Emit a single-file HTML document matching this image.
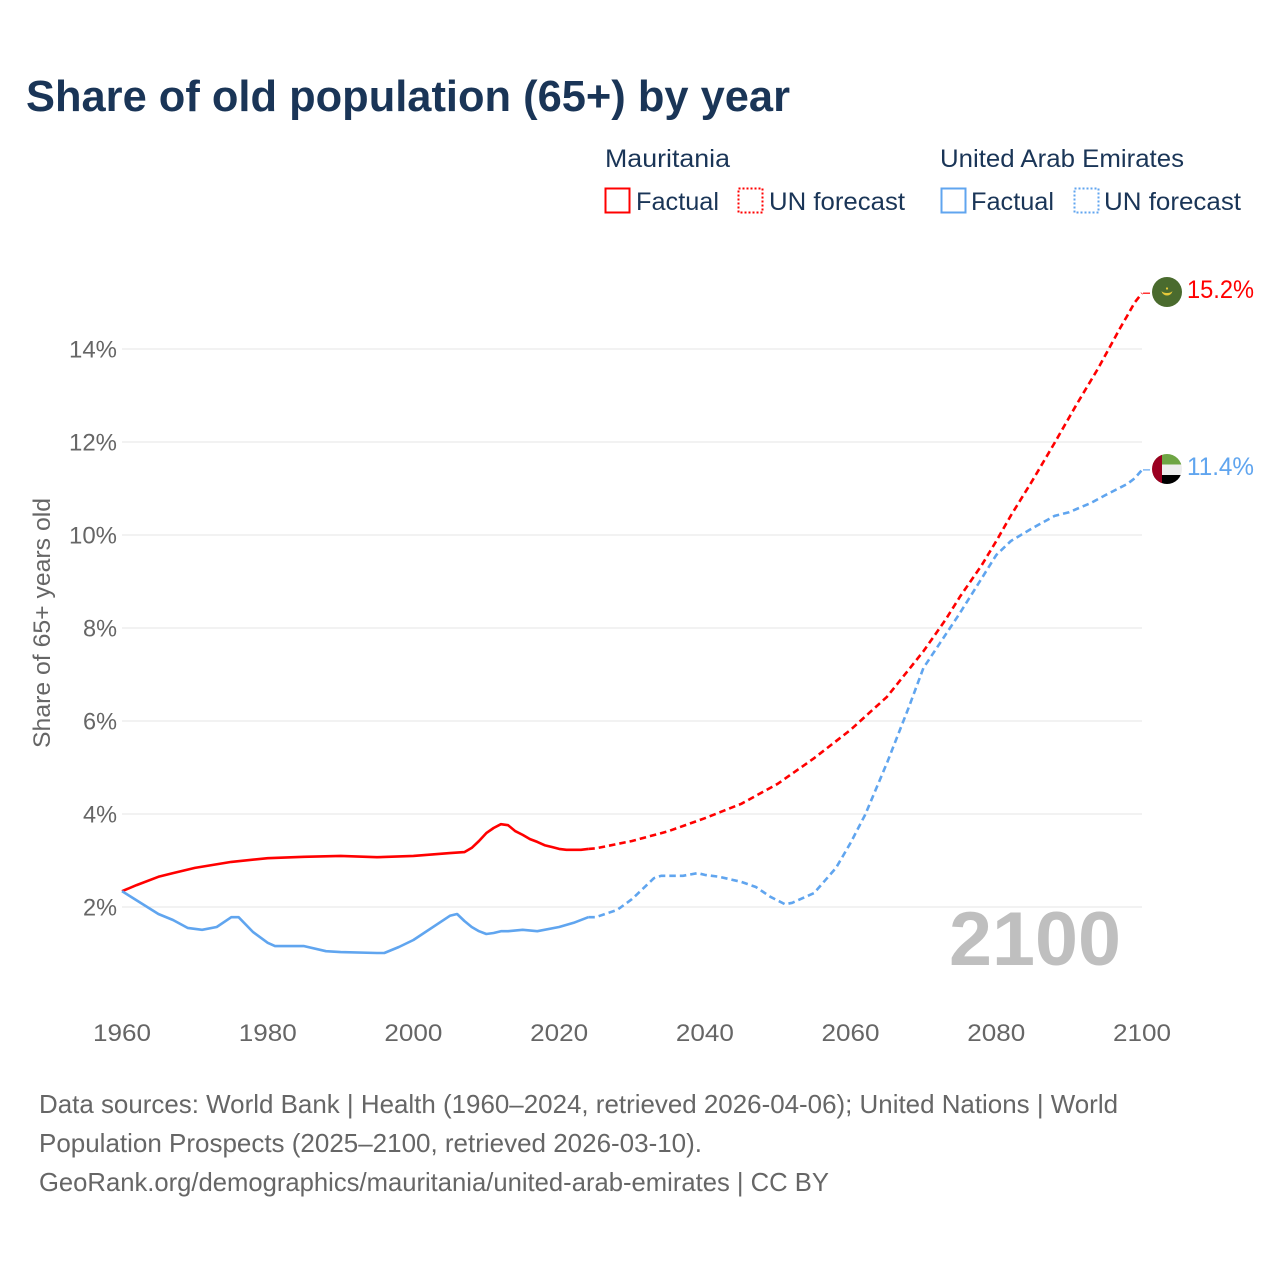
<!DOCTYPE html>
<html lang="en">
<head>
<meta charset="utf-8">
<title>Share of old population (65+) by year</title>
<style>
html,body{margin:0;padding:0;background:#fff;width:1280px;height:1280px;overflow:hidden}
svg{display:block;font-family:"Liberation Sans",sans-serif}
.lg{fill:#1a3557;font-size:25px}
.ft{fill:#666;font-size:26px}
.tick{fill:#666;font-size:24.5px}
</style>
</head>
<body>
<svg id="chart" xmlns="http://www.w3.org/2000/svg" width="1280" height="1280" viewBox="0 0 1280 1280">
<defs>
<clipPath id="flag-clip-a"><circle cx="1167" cy="292" r="15"/></clipPath>
<clipPath id="flag-clip-b"><circle cx="1167" cy="469" r="15"/></clipPath>
</defs>
<rect width="1280" height="1280" fill="#fff"/>
<text x="26" y="111" font-size="44" font-weight="700" fill="#1a3557" textLength="764" lengthAdjust="spacingAndGlyphs">Share of old population (65+) by year</text>

<g>
<text class="lg" x="605" y="167" textLength="125" lengthAdjust="spacingAndGlyphs">Mauritania</text>
<text class="lg" x="940" y="167" textLength="244" lengthAdjust="spacingAndGlyphs">United Arab Emirates</text>
<rect x="605.5" y="188.5" width="24" height="24" fill="none" stroke="#ff0000" stroke-width="2"/>
<text class="lg" x="636" y="210" textLength="83" lengthAdjust="spacingAndGlyphs">Factual</text>
<rect x="738.5" y="188.5" width="24" height="24" fill="none" stroke="#ff0000" stroke-width="2" stroke-dasharray="2 2"/>
<text class="lg" x="769" y="210" textLength="136" lengthAdjust="spacingAndGlyphs">UN forecast</text>
<rect x="941.5" y="188.5" width="24" height="24" fill="none" stroke="#60a5ef" stroke-width="2"/>
<text class="lg" x="971" y="210" textLength="83" lengthAdjust="spacingAndGlyphs">Factual</text>
<rect x="1074.5" y="188.5" width="24" height="24" fill="none" stroke="#60a5ef" stroke-width="2" stroke-dasharray="2 2"/>
<text class="lg" x="1104" y="210" textLength="137" lengthAdjust="spacingAndGlyphs">UN forecast</text>
</g>

<g id="grid"></g>
<g id="yticks"></g>
<g id="xticks"></g>
<text transform="translate(50 623) rotate(-90)" text-anchor="middle" class="tick" textLength="250" lengthAdjust="spacingAndGlyphs">Share of 65+ years old</text>

<text x="949" y="965" font-size="76" font-weight="700" fill="#bfbfbf" textLength="172" lengthAdjust="spacingAndGlyphs">2100</text>
<g id="series"></g>

<g clip-path="url(#flag-clip-a)">
<rect x="1152" y="277" width="30" height="30" fill="#4a6b2e"/>
<path d="M1161.5 291 A5.6 5.6 0 0 0 1172.5 291 A6 3.4 0 0 1 1161.5 291Z" fill="#e6c93a"/>
<circle cx="1167" cy="288.5" r="1.1" fill="#e6c93a"/>
</g>
<g clip-path="url(#flag-clip-b)">
<rect x="1152" y="454" width="30" height="10.5" fill="#6ea544"/>
<rect x="1152" y="464.5" width="30" height="10.5" fill="#eeeeee"/>
<rect x="1152" y="475" width="30" height="10" fill="#000"/>
<rect x="1152" y="454" width="10" height="31" fill="#9b0020"/>
</g>
<text x="1187" y="298" font-size="25" fill="#ff0000" textLength="67" lengthAdjust="spacingAndGlyphs">15.2%</text>
<text x="1187" y="475" font-size="25" fill="#60a5ef" textLength="67" lengthAdjust="spacingAndGlyphs">11.4%</text>

<g>
<text class="ft" x="39" y="1113" textLength="1079" lengthAdjust="spacingAndGlyphs">Data sources: World Bank | Health (1960–2024, retrieved 2026-04-06); United Nations | World</text>
<text class="ft" x="39" y="1152" textLength="663" lengthAdjust="spacingAndGlyphs">Population Prospects (2025–2100, retrieved 2026-03-10).</text>
<text class="ft" x="39" y="1191" textLength="790" lengthAdjust="spacingAndGlyphs">GeoRank.org/demographics/mauritania/united-arab-emirates | CC BY</text>
</g>
</svg>
<script>
const yTickValues = [2, 4, 6, 8, 10, 12, 14];
const xTickYears = [1960, 1980, 2000, 2020, 2040, 2060, 2080, 2100];

const mauritaniaFactualYears = [1960,1962,1965,1967,1970,1975,1980,1985,1990,1995,2000,2005,2007,2008,2009,2010,2011,2012,2013,2014,2015,2016,2017,2018,2019,2020,2021,2022,2023,2024];
const mauritaniaFactualValues = [2.34,2.47,2.65,2.73,2.84,2.97,3.05,3.08,3.10,3.07,3.10,3.16,3.18,3.27,3.42,3.59,3.70,3.78,3.76,3.63,3.55,3.46,3.40,3.33,3.29,3.25,3.23,3.23,3.23,3.25];
const mauritaniaForecastYears = [2024,2025,2030,2035,2040,2045,2050,2055,2060,2065,2070,2073,2075,2078,2080,2082,2085,2088,2091,2094,2097,2098,2099,2100];
const mauritaniaForecastValues = [3.25,3.26,3.42,3.63,3.91,4.22,4.65,5.20,5.81,6.52,7.50,8.17,8.67,9.35,9.87,10.42,11.18,11.98,12.80,13.59,14.45,14.72,15.00,15.20];

const uaeFactualYears = [1960,1965,1967,1969,1971,1973,1975,1976,1978,1980,1981,1985,1988,1990,1995,1996,1998,2000,2005,2006,2007,2008,2009,2010,2011,2012,2013,2015,2017,2020,2022,2024];
const uaeFactualValues = [2.34,1.85,1.72,1.55,1.51,1.57,1.78,1.78,1.46,1.23,1.16,1.16,1.05,1.03,1.01,1.01,1.14,1.29,1.81,1.85,1.70,1.57,1.48,1.42,1.44,1.48,1.48,1.51,1.48,1.57,1.66,1.78];
const uaeForecastYears = [2024,2025,2028,2030,2033,2034,2037,2039,2040,2042,2045,2047,2049,2051,2052,2055,2058,2060,2062,2065,2068,2070,2075,2080,2082,2085,2088,2090,2093,2095,2098,2099,2100];
const uaeForecastValues = [1.78,1.78,1.94,2.17,2.62,2.67,2.67,2.73,2.69,2.65,2.54,2.43,2.22,2.06,2.09,2.30,2.84,3.38,3.98,5.10,6.30,7.14,8.32,9.57,9.87,10.15,10.41,10.49,10.69,10.86,11.10,11.22,11.40];

const NS = 'http://www.w3.org/2000/svg';
const xScale = year => 122 + (year - 1960) * (1142 - 122) / 140;
const yScale = value => 907 - (value - 2) * 46.5;
const pathFrom = (years, values) => years.map((y, i) => (i ? 'L' : 'M') + xScale(y).toFixed(1) + ' ' + yScale(values[i]).toFixed(1)).join(' ');

const grid = document.getElementById('grid');
const yticks = document.getElementById('yticks');
yTickValues.forEach(v => {
  const line = document.createElementNS(NS, 'line');
  
  
  line.setAttribute('x1', 122);
  line.setAttribute('x2', 1142);
  line.setAttribute('y1', yScale(v));
  line.setAttribute('y2', yScale(v));
  line.setAttribute('stroke', '#e4e4e4');
  line.setAttribute('stroke-width', '1.1');
  grid.appendChild(line);
  const t = document.createElementNS(NS, 'text');
  
  
  t.setAttribute('class', 'tick');
  t.setAttribute('x', 117);
  t.setAttribute('y', yScale(v) + 8.5);
  t.setAttribute('text-anchor', 'end');
  t.setAttribute('textLength', String(v).length === 2 ? '48' : '34');
  t.setAttribute('lengthAdjust', 'spacingAndGlyphs');
  t.textContent = v + '%';
  yticks.appendChild(t);
});

const xticks = document.getElementById('xticks');
xTickYears.forEach(year => {
  const t = document.createElementNS(NS, 'text');
  
  
  t.setAttribute('class', 'tick');
  t.setAttribute('x', xScale(year));
  t.setAttribute('y', 1041);
  t.setAttribute('text-anchor', 'middle');
  t.setAttribute('textLength', '58');
  t.setAttribute('lengthAdjust', 'spacingAndGlyphs');
  t.textContent = year;
  xticks.appendChild(t);
});

const series = document.getElementById('series');
function addLine(name, d, color, dash, width) {
  const p = document.createElementNS(NS, 'path');
  
  
  p.setAttribute('d', d);
  p.setAttribute('fill', 'none');
  p.setAttribute('stroke', color);
  p.setAttribute('stroke-width', width);
  p.setAttribute('stroke-linejoin', 'round');
  if (dash) p.setAttribute('stroke-dasharray', dash);
  series.appendChild(p);
}
function connector(years, values) {
  const last = values[values.length - 1];
  const yEnd = yScale(last).toFixed(1);
  return 'M' + (xScale(years[years.length - 1]) + 1) + ' ' + yEnd + ' L1150 ' + yEnd;
}
addLine('mauritania-factual-line', pathFrom(mauritaniaFactualYears, mauritaniaFactualValues), '#ff0000', null, 2.6);
addLine('mauritania-forecast-line', pathFrom(mauritaniaForecastYears, mauritaniaForecastValues), '#ff0000', '6.5 4', 2.6);
addLine('mauritania-connector', connector(mauritaniaForecastYears, mauritaniaForecastValues), '#ff0000', null, 1.2);
addLine('uae-factual-line', pathFrom(uaeFactualYears, uaeFactualValues), '#60a5ef', null, 2.6);
addLine('uae-forecast-line', pathFrom(uaeForecastYears, uaeForecastValues), '#60a5ef', '6.5 4', 2.6);
addLine('uae-connector', connector(uaeForecastYears, uaeForecastValues), '#60a5ef', null, 1.2);
</script>
</body>
</html>
